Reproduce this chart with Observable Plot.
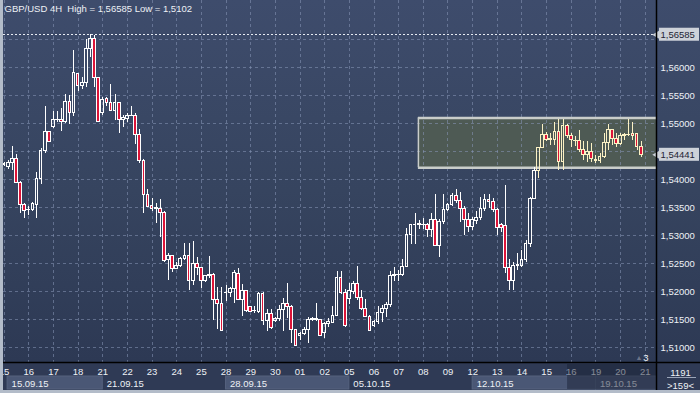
<!DOCTYPE html>
<html><head><meta charset="utf-8">
<script src="https://cdn.jsdelivr.net/npm/d3@7"></script>
<script src="https://cdn.jsdelivr.net/npm/@observablehq/plot@0.6"></script>
<style>
html,body{margin:0;padding:0;overflow:hidden;background:#b3bcc9;}
#wrap{position:relative;width:700px;height:393px;background:#b3bcc9;}
#chart{position:absolute;left:3px;top:0;}
</style></head><body><div id="wrap"><div id="chart"></div></div>
<script>
// ---- data: GBP/USD 4H candles (15.09.15 - 20.10.15) ----
const opens = [1.5426,1.5423,1.5430,1.5437,1.5394,1.5355,1.5345,1.5345,1.5355,1.5401,1.5451,1.5484,1.5493,1.5506,1.5507,1.5502,1.5539,1.5518,1.5588,1.5567,
1.5572,1.5633,1.5650,1.5581,1.5518,1.5543,1.5537,1.5523,1.5537,1.5507,1.5508,1.5513,1.5514,1.5480,1.5433,1.5373,1.5352,1.5348,1.5348,1.5341,
1.5257,1.5263,1.5241,1.5245,1.5258,1.5263,1.5218,1.5249,1.5242,1.5218,1.5227,1.5230,1.5185,1.5177,1.5197,1.5198,1.5205,1.5232,1.5185,1.5200,
1.5172,1.5165,1.5164,1.5195,1.5147,1.5160,1.5147,1.5151,1.5167,1.5178,1.5173,1.5132,1.5121,1.5124,1.5132,1.5149,1.5149,1.5149,1.5126,1.5142,
1.5143,1.5157,1.5224,1.5198,1.5187,1.5199,1.5213,1.5189,1.5169,1.5155,1.5139,1.5146,1.5162,1.5168,1.5175,1.5227,1.5229,1.5229,1.5243,1.5300,
1.5318,1.5319,1.5320,1.5318,1.5309,1.5327,1.5282,1.5324,1.5346,1.5355,1.5370,1.5361,1.5348,1.5328,1.5315,1.5326,1.5332,1.5348,1.5364,1.5359,
1.5346,1.5318,1.5317,1.5242,1.5219,1.5245,1.5246,1.5256,1.5284,1.5366,1.5416,1.5457,1.5479,1.5471,1.5471,1.5484,1.5431,1.5496,1.5477,1.5469,
1.5468,1.5452,1.5443,1.5449,1.5433,1.5433,1.5441,1.5465,1.5489,1.5473,1.5464,1.5478,1.5479,1.5482,1.5482,1.5458];
const highs = [1.5430,1.5434,1.5459,1.5444,1.5397,1.5358,1.5352,1.5359,1.5413,1.5455,1.5530,1.5486,1.5521,1.5521,1.5526,1.5552,1.5550,1.5631,1.5590,1.5583,
1.5650,1.56585,1.5657,1.5582,1.5547,1.5547,1.5570,1.5551,1.5538,1.5514,1.5518,1.5530,1.5517,1.5489,1.5435,1.5382,1.5366,1.5357,1.5364,1.5342,
1.5267,1.5264,1.5252,1.5261,1.5286,1.5286,1.5289,1.5260,1.5243,1.5229,1.5263,1.5233,1.5208,1.5208,1.5211,1.5208,1.5238,1.5241,1.5212,1.5202,
1.5173,1.5173,1.5198,1.5198,1.5167,1.5167,1.5153,1.5175,1.5187,1.5215,1.5175,1.5133,1.5127,1.5135,1.5153,1.5154,1.5179,1.5150,1.5145,1.5151,
1.5173,1.5236,1.5236,1.5203,1.5214,1.5218,1.5245,1.5202,1.5185,1.5157,1.5149,1.5173,1.5175,1.5181,1.5236,1.5242,1.5238,1.5258,1.5312,1.5319,
1.5340,1.5327,1.5330,1.5322,1.5339,1.5373,1.5328,1.5373,1.5358,1.5375,1.5383,1.5377,1.5351,1.5339,1.5333,1.5342,1.5368,1.5373,1.5374,1.5366,
1.5348,1.5321,1.5389,1.5258,1.5251,1.5267,1.5274,1.5291,1.5368,1.5422,1.5458,1.5498,1.5484,1.5482,1.5501,1.5508,1.5508,1.5499,1.5482,1.5477,
1.5488,1.5467,1.5467,1.5464,1.5443,1.5446,1.5482,1.5498,1.5490,1.5482,1.5482,1.5483,1.5507,1.5501,1.5483,1.5468];
const lows = [1.5423,1.5417,1.5416,1.5392,1.5340,1.5330,1.5336,1.5342,1.5330,1.5391,1.5447,1.5466,1.5491,1.5502,1.5486,1.5500,1.5499,1.5513,1.5558,1.5560,
1.5565,1.5617,1.5564,1.5501,1.5514,1.5530,1.5521,1.5505,1.5482,1.5493,1.5502,1.5512,1.5462,1.5428,1.5340,1.5350,1.5343,1.5322,1.5297,1.5252,
1.5220,1.5234,1.5239,1.5243,1.5255,1.5201,1.5211,1.5229,1.5205,1.5216,1.5223,1.5149,1.5133,1.5128,1.5183,1.5189,1.5178,1.5184,1.5155,1.5163,
1.5162,1.5160,1.5161,1.5139,1.5129,1.5133,1.5145,1.5147,1.5129,1.5151,1.5107,1.5102,1.5113,1.5121,1.5107,1.5146,1.5147,1.5120,1.5116,1.5135,
1.5142,1.5155,1.5195,1.5136,1.5177,1.5195,1.5184,1.5166,1.5153,1.5129,1.5136,1.5141,1.5145,1.5154,1.5172,1.5217,1.5217,1.5227,1.5242,1.5284,
1.5284,1.5310,1.5310,1.5297,1.5297,1.5281,1.5261,1.5320,1.5342,1.5352,1.5357,1.5324,1.5300,1.5306,1.5309,1.5320,1.5327,1.5342,1.5349,1.5341,
1.5300,1.5306,1.5232,1.5201,1.5201,1.5238,1.5243,1.5252,1.5279,1.5364,1.5401,1.5455,1.5468,1.5461,1.5461,1.5416,1.5416,1.5473,1.5458,1.5459,
1.5449,1.5434,1.5431,1.5431,1.5429,1.5428,1.5437,1.5451,1.5461,1.5458,1.5461,1.5470,1.5476,1.5470,1.5451,1.5440];
const closes = [1.5427,1.5430,1.5437,1.5394,1.5355,1.5343,1.5346,1.5356,1.5401,1.5451,1.5484,1.5467,1.5507,1.5507,1.5502,1.5539,1.5518,1.5591,1.5567,1.5572,
1.5633,1.5650,1.5581,1.5502,1.5542,1.5536,1.5523,1.5537,1.5507,1.5510,1.5514,1.5514,1.5480,1.5433,1.5373,1.5351,1.5348,1.5349,1.5341,1.5255,
1.5263,1.5241,1.5246,1.5258,1.5263,1.5218,1.5249,1.5242,1.5218,1.5227,1.5230,1.5185,1.5177,1.5129,1.5198,1.5205,1.5233,1.5185,1.5200,1.5165,
1.5163,1.5166,1.5195,1.5147,1.5160,1.5135,1.5151,1.5167,1.5178,1.5173,1.5132,1.5103,1.5124,1.5132,1.5149,1.5150,1.5150,1.5121,1.5142,1.5145,
1.5157,1.5224,1.5198,1.5138,1.5200,1.5213,1.5189,1.5169,1.5154,1.5130,1.5146,1.5162,1.5169,1.5175,1.5227,1.5230,1.5230,1.5243,1.5300,1.5318,
1.5319,1.5320,1.5320,1.5309,1.5327,1.5282,1.5324,1.5346,1.5355,1.5370,1.5361,1.5348,1.5328,1.5315,1.5327,1.5332,1.5348,1.5364,1.5359,1.5346,
1.5314,1.5314,1.5242,1.5219,1.5246,1.5247,1.5257,1.5284,1.5366,1.5416,1.5457,1.5479,1.5471,1.5472,1.5484,1.5431,1.5496,1.5477,1.5470,1.5468,
1.5452,1.5443,1.5449,1.5437,1.5434,1.5441,1.5465,1.5489,1.5473,1.5464,1.5477,1.5479,1.5480,1.5477,1.5458,1.54441];

const dayLabels = ["15","16","17","18","21","22","23","24","25","28","29","30","01","02","05","06","07","08","09","12","13","14","15","16","19","20","21"];
const weekLabels = ["15.09.15","21.09.15","28.09.15","05.10.15","12.10.15","19.10.15"];
const weekStartDay = [0, 4, 9, 14, 19, 24];   // index into dayLabels
const priceTicks = [1.510,1.515,1.520,1.525,1.530,1.535,1.540,1.545,1.550,1.555,1.560,1.565];
const highValue = 1.56585;
const lowValue = 1.5102;
const lastValue = 1.54441;
const zoneTop = 1.5510, zoneBottom = 1.5421, zoneStart = 100.8; // rectangle object (price / bar)
const barsPerDay = 6;
const barsCount = "1191", visibleBars = ">159<";

// ---- chart ----
const xMin = -0.15, xMax = 158.73;
const yMin = 1.507321, yMax = 1.571964;
const fmt = v => v.toFixed(5).replace(".", ",");
const candles = opens.map((o, i) => ({i, o, h: highs[i], l: lows[i], c: closes[i]}));
const creamFrom = 130;
const edge = d => d.i >= creamFrom ? "#fbf1c4" : "#ffffff";
const red = "#dc1438";
const dojis = candles.filter(d => Math.abs(d.o - d.c) < 0.00008);
const dayIdx = dayLabels.map((d, k) => k * barsPerDay);
const weeks = weekLabels.map((w, k) => ({
  label: w,
  start: weekStartDay[k] * barsPerDay,
  end: k + 1 < weekLabels.length ? weekStartDay[k + 1] * barsPerDay : xMax
}));
const litWeeks = weeks.filter((w, k) => k % 2 === 0 || k === weeks.length - 1);
const tags = [highValue, lastValue];
// labels hidden under the price tags
const shownTicks = priceTicks.filter(t => tags.every(g => Math.abs(g - t) > 0.0012));
const fs = 9.5;
const T = {fill: "#eef1f6", fontSize: fs, lineAnchor: "middle"};

const chart = Plot.plot({
  width: 697, height: 390,
  marginLeft: 0, marginRight: 44, marginTop: 0, marginBottom: 28,
  x: {domain: [xMin, xMax], axis: null},
  y: {domain: [yMin, yMax], axis: null},
  color: {type: "identity"},
  style: {
    background: "linear-gradient(180deg, #3e4c6c 0px, #36445f 190px, #2d3954 362px, #2f3a55 362px, #2f3a55 390px)",
    fontFamily: "'Liberation Sans', Arial, sans-serif",
    color: "#eef1f6"
  },
  marks: [
    // zone rectangle
    Plot.rect([0], {x1: zoneStart, x2: xMax, y1: zoneBottom, y2: zoneTop, fill: "#4e5a54"}),
    // grid
    Plot.ruleY(priceTicks, {stroke: "#8898b8", strokeOpacity: 0.55, strokeDasharray: "3,3", shapeRendering: "crispEdges"}),
    Plot.ruleX(dayIdx, {stroke: "#8898b8", strokeOpacity: 0.55, strokeDasharray: "3,3", shapeRendering: "crispEdges"}),
    // zone borders
    Plot.ruleY([zoneTop, zoneBottom], {x1: zoneStart, x2: xMax, stroke: "#c9cdca", strokeWidth: 2.5}),
    Plot.ruleX([zoneStart], {y1: zoneBottom, y2: zoneTop, stroke: "#c9cdca", strokeWidth: 1.5}),
    // high line
    Plot.ruleY([highValue], {stroke: "#e8ecf4", strokeDasharray: "2,2", shapeRendering: "crispEdges"}),
    // candles: wicks
    Plot.ruleX(candles, {x: "i", y1: "h", y2: d => Math.max(d.o, d.c), stroke: edge, shapeRendering: "crispEdges"}),
    Plot.ruleX(candles, {x: "i", y1: "l", y2: d => Math.min(d.o, d.c), stroke: edge, shapeRendering: "crispEdges"}),
    // bodies
    Plot.rect(candles, {x1: d => d.i - 0.33, x2: d => d.i + 0.33, y1: "o", y2: "c",
      fill: d => d.c < d.o ? red : "none", stroke: edge, strokeWidth: 1, shapeRendering: "crispEdges"}),
    Plot.ruleY(dojis, {y: d => (d.o + d.c) / 2, x1: d => d.i - 0.42, x2: d => d.i + 0.42, stroke: edge, shapeRendering: "crispEdges"}),
    // price labels (right)
    Plot.text(shownTicks, {...T, x: xMax, y: d => d, text: fmt, dx: 4, textAnchor: "start"}),
    // price tags
    Plot.rect(tags, {y1: d => d, y2: d => d, insetTop: -6.5, insetBottom: -6.5, insetLeft: 656, insetRight: -43, fill: "#cdd2d9"}),
    Plot.dot(tags, {x: xMax, y: d => d, symbol: "triangle", rotate: -90, r: 4, dx: 2, fill: "#cdd2d9", stroke: "none"}),
    Plot.text(tags, {...T, x: xMax, y: d => d, text: fmt, dx: 4, textAnchor: "start", fill: "#1d2434"}),
    // bottom week boxes
    Plot.rect(litWeeks, {x1: d => Math.max(d.start, 0.85), x2: "end", insetTop: 376, insetBottom: -27, fill: "#4a5775", stroke: "#56637f"}),
    Plot.text(weeks, {...T, x: d => Math.max(d.start, 0.85), text: "label", frameAnchor: "bottom", dy: 21, dx: 4, textAnchor: "start"}),
    // day labels
    Plot.text(dayLabels, {...T, x: (d, k) => k * barsPerDay, text: d => d, frameAnchor: "bottom", dy: 9}),
    // dark overlay on the newest part of the time scale
    Plot.rect([0], {x1: 137.1, x2: xMax, insetTop: 364, insetBottom: -27, fill: "#1a2236", fillOpacity: 0.5}),
    // separators
    Plot.ruleY([yMin], {stroke: "#000", strokeWidth: 1.5, insetRight: -44}),
    Plot.ruleX([xMax], {stroke: "#000", strokeWidth: 1.5, insetBottom: -28}),
    // bars counter (bottom right)
    Plot.text([barsCount], {...T, x: xMax, y: yMin, textAnchor: "middle", dx: 24, dy: 10}),
    Plot.rect([0], {insetLeft: 664, insetRight: -40, insetTop: 377, insetBottom: -16, fill: "#9aa4b8"}),
    Plot.text([visibleBars], {...T, x: xMax, y: yMin, textAnchor: "middle", dx: 24, dy: 23}),
    // small marker
    Plot.text(["▲"], {...T, frameAnchor: "bottom-right", dx: -14, dy: -5, fill: "#6c7488", fontSize: 7}),
    Plot.text(["3"], {...T, frameAnchor: "bottom-right", dx: -8, dy: -5}),
    // title
    Plot.text([`GBP/USD 4H  High = ${highValue.toFixed(5).replace(".", ",")} Low = ${String(lowValue).replace(".", ",")}`],
      {...T, frameAnchor: "top-left", dx: 1, dy: 8, textAnchor: "start"})
  ]
});
document.getElementById("chart").appendChild(chart);
</script>
</body></html>
